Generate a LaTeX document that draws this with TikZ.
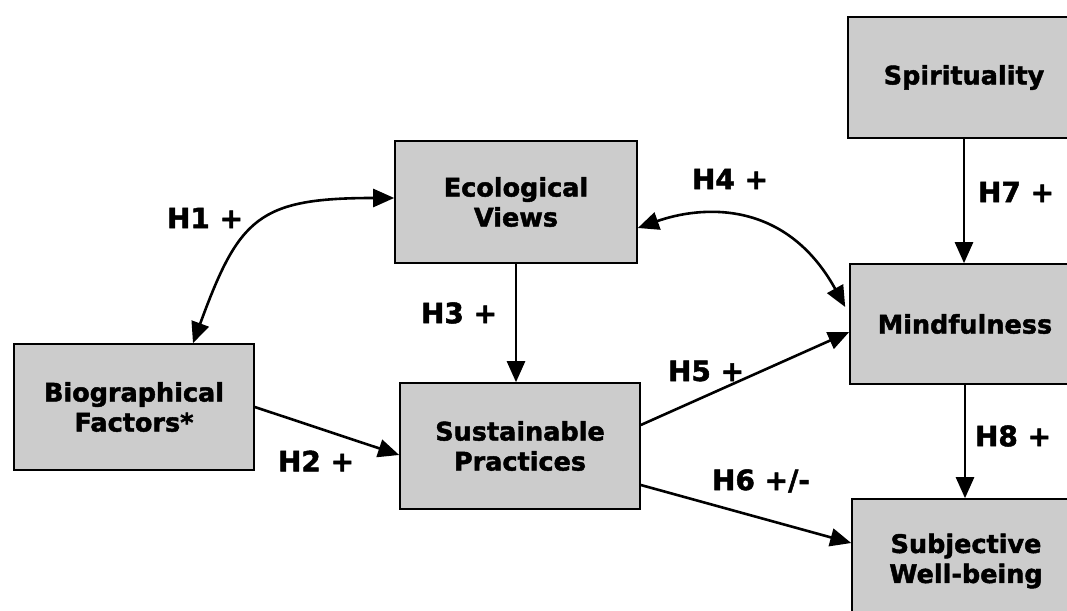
\documentclass[tikz,border=0pt]{standalone}
\usepackage{fontspec}
\setmainfont{DejaVu Sans}
\newfontfamily\heavyfont[FakeBold=1.8]{DejaVu Sans Bold}
\usetikzlibrary{arrows.meta}
\begin{document}
\begin{tikzpicture}[x=1pt,y=1pt,
  box/.style={draw=black,line width=1.6pt,fill=black!20,inner sep=0pt,
    align=center,font=\fontsize{25.5}{30}\selectfont\heavyfont},
  lbl/.style={font=\fontsize{28}{32}\selectfont\heavyfont,inner sep=0pt},
  arr/.style={line width=2.6pt,-{Triangle[length=21pt,width=18pt]}},
  darr/.style={line width=2.6pt,{Triangle[length=21pt,width=18pt]}-{Triangle[length=21pt,width=18pt]}}]
\useasboundingbox (0,0) rectangle (1067,610);
\clip (0,0) rectangle (1067,610);
\fill[white] (0,0) rectangle (1067,610);
\node[box,minimum width=242pt,minimum height=122pt] (eco) at (516,408) {Ecological\\Views};
\node[box,minimum width=240pt,minimum height=126pt] (sus) at (520,164) {Sustainable\\Practices};
\node[box,minimum width=240pt,minimum height=126pt] (bio) at (134,203) {Biographical\\Factors*};
\node[box,minimum width=232pt,minimum height=121pt] (spi) at (964,532.5) {Spirituality};
\node[box,minimum width=230pt,minimum height=120pt] (mind) at (965,286) {Mindfulness};
\node[box,minimum width=228pt,minimum height=124pt] (swb) at (966,49) {Subjective\\Well-being};

\draw[darr] ([yshift=4pt]eco.west) .. controls (258,412) and (239,392) .. ([xshift=59pt]bio.north);
\draw[darr] ([yshift=-26pt]eco.east) .. controls (700,404) and (785,412) .. ([yshift=17pt,xshift=-4pt]mind.west);
\draw[arr] (eco.south) -- (eco.south |- sus.north);
\draw[arr] (spi.south) -- (spi.south |- mind.north);
\draw[arr] (mind.south) -- (mind.south |- swb.north);
\draw[arr] (bio.east) -- ([yshift=-9pt]sus.west);
\draw[arr] ([yshift=21pt]sus.east) -- ([yshift=-8pt]mind.west);
\draw[arr] ([yshift=-39pt]sus.east) -- ([yshift=18pt]swb.west);

\node[lbl] (h1) at (205,392) {H1 +};
\node[lbl] (h4) at (730,431) {H4 +};
\node[lbl] (h7) at (1016,418) {H7 +};
\node[lbl] (h3) at (459,297) {H3 +};
\node[lbl] (h2) at (316,149) {H2 +};
\node[lbl] (h5) at (706,239) {H5 +};
\node[lbl] (h6) at (761,129) {H6 +/-};
\node[lbl] (h8) at (1013,174) {H8 +};
\end{tikzpicture}
\end{document}
